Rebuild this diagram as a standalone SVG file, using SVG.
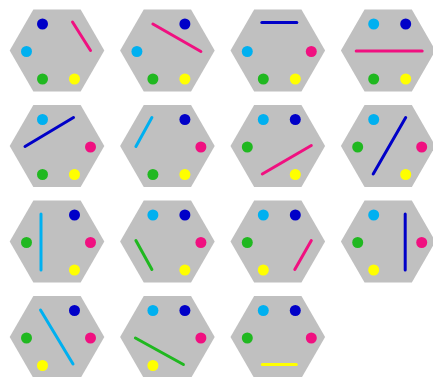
<svg xmlns="http://www.w3.org/2000/svg" xmlns:xlink="http://www.w3.org/1999/xlink" width="433" height="377" viewBox="0 0 433 377">
<style>
.h{fill:#c0c0c0}
.b{fill:#0000c8}.c{fill:#00b0f0}.g{fill:#20b820}.y{fill:#ffff00}.p{fill:#f01080}
line{stroke-width:3;stroke-linecap:round}
.lb{stroke:#0000c8}.lc{stroke:#00b0f0}.lg{stroke:#20b820}.ly{stroke:#ffff00}.lp{stroke:#f01080}
</style>
<defs>
<polygon id="hex" class="h" points="-47.3,0 -23.65,-41 23.65,-41 47.3,0 23.65,41 -23.65,41"/>
</defs>
<rect width="433" height="377" fill="#ffffff"/>
<!-- positions: L(-30.5,1) R(33.5,1) TL(-14.5,-26.5) TR(17.5,-26.5) BL(-14.5,28.5) BR(17.5,28.5) -->
<g id="n1" transform="translate(57,50.5)"><use xlink:href="#hex"/>
<circle class="b" cx="-14.5" cy="-26.5" r="5.5"/><circle class="c" cx="-30.5" cy="1" r="5.5"/><circle class="g" cx="-14.5" cy="28.5" r="5.5"/><circle class="y" cx="17.5" cy="28.5" r="5.5"/>
<line class="lp" x1="15.5" y1="-28.5" x2="33.5" y2="0"/></g>
<g id="n2" transform="translate(167.4,50.5)"><use xlink:href="#hex"/>
<circle class="b" cx="17.5" cy="-26.5" r="5.5"/><circle class="c" cx="-30.5" cy="1" r="5.5"/><circle class="g" cx="-14.5" cy="28.5" r="5.5"/><circle class="y" cx="17.5" cy="28.5" r="5.5"/>
<line class="lp" x1="-14.5" y1="-26.5" x2="33.5" y2="1"/></g>
<g id="n3" transform="translate(277.8,50.5)"><use xlink:href="#hex"/>
<circle class="c" cx="-30.5" cy="1" r="5.5"/><circle class="p" cx="33.5" cy="1" r="5.5"/><circle class="g" cx="-14.5" cy="28.5" r="5.5"/><circle class="y" cx="17.5" cy="28.5" r="5.5"/>
<line class="lb" x1="-16" y1="-28" x2="19" y2="-28"/></g>
<g id="n4" transform="translate(388.2,50.5)"><use xlink:href="#hex"/>
<circle class="c" cx="-14.5" cy="-26.5" r="5.5"/><circle class="b" cx="17.5" cy="-26.5" r="5.5"/><circle class="g" cx="-14.5" cy="28.5" r="5.5"/><circle class="y" cx="17.5" cy="28.5" r="5.5"/>
<line class="lp" x1="-32" y1="0.5" x2="34" y2="0.5"/></g>

<g id="n5" transform="translate(57,146)"><use xlink:href="#hex"/>
<circle class="c" cx="-14.5" cy="-26.5" r="5.5"/><circle class="p" cx="33.5" cy="1" r="5.5"/><circle class="g" cx="-14.5" cy="28.5" r="5.5"/><circle class="y" cx="17.5" cy="28.5" r="5.5"/>
<line class="lb" x1="-32" y1="0.5" x2="16.5" y2="-28.5"/></g>
<g id="n6" transform="translate(167.4,146)"><use xlink:href="#hex"/>
<circle class="b" cx="17.5" cy="-26.5" r="5.5"/><circle class="p" cx="33.5" cy="1" r="5.5"/><circle class="g" cx="-14.5" cy="28.5" r="5.5"/><circle class="y" cx="17.5" cy="28.5" r="5.5"/>
<line class="lc" x1="-31.5" y1="0.5" x2="-15.5" y2="-28.5"/></g>
<g id="n7" transform="translate(277.8,146)"><use xlink:href="#hex"/>
<circle class="c" cx="-14.5" cy="-26.5" r="5.5"/><circle class="b" cx="17.5" cy="-26.5" r="5.5"/><circle class="g" cx="-30.5" cy="1" r="5.5"/><circle class="y" cx="17.5" cy="28.5" r="5.5"/>
<line class="lp" x1="-15.5" y1="28" x2="33.5" y2="-0.5"/></g>
<g id="n8" transform="translate(388.2,146)"><use xlink:href="#hex"/>
<circle class="c" cx="-14.5" cy="-26.5" r="5.5"/><circle class="g" cx="-30.5" cy="1" r="5.5"/><circle class="p" cx="33.5" cy="1" r="5.5"/><circle class="y" cx="17.5" cy="28.5" r="5.5"/>
<line class="lb" x1="-15" y1="28" x2="17.5" y2="-28.5"/></g>

<g id="n9" transform="translate(57,241.5)"><use xlink:href="#hex"/>
<circle class="b" cx="17.5" cy="-26.5" r="5.5"/><circle class="g" cx="-30.5" cy="1" r="5.5"/><circle class="p" cx="33.5" cy="1" r="5.5"/><circle class="y" cx="17.5" cy="28.5" r="5.5"/>
<line class="lc" x1="-16" y1="-27.5" x2="-16" y2="28.5"/></g>
<g id="n10" transform="translate(167.4,241.5)"><use xlink:href="#hex"/>
<circle class="c" cx="-14.5" cy="-26.5" r="5.5"/><circle class="b" cx="17.5" cy="-26.5" r="5.5"/><circle class="p" cx="33.5" cy="1" r="5.5"/><circle class="y" cx="17.5" cy="28.5" r="5.5"/>
<line class="lg" x1="-31.5" y1="-1" x2="-15.5" y2="28"/></g>
<g id="n11" transform="translate(277.8,241.5)"><use xlink:href="#hex"/>
<circle class="c" cx="-14.5" cy="-26.5" r="5.5"/><circle class="b" cx="17.5" cy="-26.5" r="5.5"/><circle class="g" cx="-30.5" cy="1" r="5.5"/><circle class="y" cx="-14.5" cy="28.5" r="5.5"/>
<line class="lp" x1="17" y1="28" x2="33.5" y2="-1"/></g>
<g id="n12" transform="translate(388.2,241.5)"><use xlink:href="#hex"/>
<circle class="c" cx="-14.5" cy="-26.5" r="5.5"/><circle class="g" cx="-30.5" cy="1" r="5.5"/><circle class="p" cx="33.5" cy="1" r="5.5"/><circle class="y" cx="-14.5" cy="28.5" r="5.5"/>
<line class="lb" x1="17" y1="-27.5" x2="17" y2="28.5"/></g>

<g id="n13" transform="translate(57,337)"><use xlink:href="#hex"/>
<circle class="b" cx="17.5" cy="-26.5" r="5.5"/><circle class="g" cx="-30.5" cy="1" r="5.5"/><circle class="p" cx="33.5" cy="1" r="5.5"/><circle class="y" cx="-14.5" cy="28.5" r="5.5"/>
<line class="lc" x1="-16.5" y1="-27" x2="16" y2="27"/></g>
<g id="n14" transform="translate(167.4,337)"><use xlink:href="#hex"/>
<circle class="c" cx="-14.5" cy="-26.5" r="5.5"/><circle class="b" cx="17.5" cy="-26.5" r="5.5"/><circle class="p" cx="33.5" cy="1" r="5.5"/><circle class="y" cx="-14.5" cy="28.5" r="5.5"/>
<line class="lg" x1="-32" y1="1" x2="16" y2="27.5"/></g>
<g id="n15" transform="translate(277.8,337)"><use xlink:href="#hex"/>
<circle class="c" cx="-14.5" cy="-26.5" r="5.5"/><circle class="b" cx="17.5" cy="-26.5" r="5.5"/><circle class="g" cx="-30.5" cy="1" r="5.5"/><circle class="p" cx="33.5" cy="1" r="5.5"/>
<line class="ly" x1="-15.5" y1="27.5" x2="18.5" y2="27.5"/></g>
<g id="connectors"/>
</svg>
